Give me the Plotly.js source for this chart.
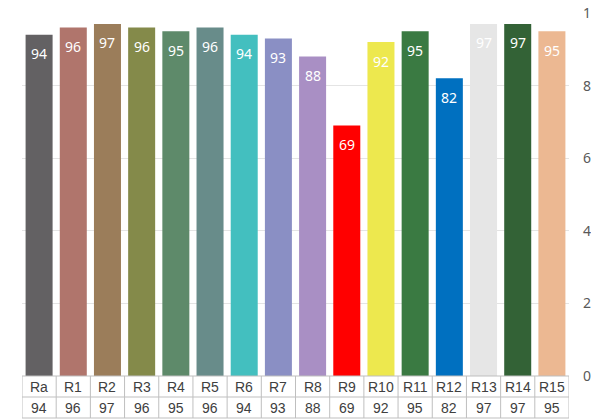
<!DOCTYPE html>
<html><head><meta charset="utf-8">
<script src="https://cdn.plot.ly/plotly-3.0.1.min.js"></script>
<style>html,body{margin:0;padding:0;background:#fff;}#chart{width:591px;height:419px;}</style>
</head><body><div id="chart"></div>
<script>
const categories = ["Ra","R1","R2","R3","R4","R5","R6","R7","R8","R9","R10","R11","R12","R13","R14","R15"];
const values = [94,96,97,96,95,96,94,93,88,69,92,95,82,97,97,95];
const colors = ["#636163","#B0756C","#9B7D5A","#848A4A","#5E8A6A","#688C8A","#43BFBF","#8A8FC4","#A98FC4","#FF0000","#EDE84E","#3A7A42","#0070C0","#E6E6E6","#336236","#ECB892"];
const tickVals = [0,20,40,60,80,100];

const trace = {
  type: 'bar', x: categories, y: values,
  marker: {color: colors, line: {width: 0}},
  hoverinfo: 'none'
};

const annotations = [];
const shapes = [];
const row1 = -21/363, row2 = -42/363;
categories.forEach((c, i) => {
  annotations.push({x: c, y: values[i], xref: 'x', yref: 'y', text: String(values[i]),
    showarrow: false, yanchor: 'middle', yshift: -19,
    font: {family: 'Noto Sans, Open Sans, sans-serif', size: 14, color: '#ffffff'}});
  annotations.push({x: c, y: row1/2, xref: 'x', yref: 'paper', text: c, showarrow: false,
    yanchor: 'middle', font: {family: 'Liberation Sans, Arial, sans-serif', size: 14, color: '#404040'}});
  annotations.push({x: c, y: (row1+row2)/2, xref: 'x', yref: 'paper', text: String(values[i]), showarrow: false,
    yanchor: 'middle', font: {family: 'Liberation Sans, Arial, sans-serif', size: 14, color: '#404040'}});
});
for (let i = 0; i <= categories.length; i++) {
  shapes.push({type: 'line', xref: 'x', yref: 'paper', x0: i - 0.5, x1: i - 0.5, y0: 0, y1: row2,
    line: {color: '#bfbfbf', width: 1}});
}
[0, row1, row2].forEach(y => {
  shapes.push({type: 'line', xref: 'x', yref: 'paper', x0: -0.5, x1: categories.length - 0.5, y0: y, y1: y,
    line: {color: '#bfbfbf', width: 1}});
});

const layout = {
  width: 591, height: 419,
  margin: {l: 22, r: 22, t: 13, b: 43},
  paper_bgcolor: '#fff', plot_bgcolor: '#fff',
  showlegend: false, bargap: 0.21,
  xaxis: {showticklabels: false, showgrid: false, zeroline: false, showline: false, ticks: '',
    range: [-0.5, categories.length - 0.5], fixedrange: true},
  yaxis: {side: 'right', range: [0, 100], tickvals: tickVals, ticktext: tickVals.map(String),
    showgrid: true, gridcolor: '#e4e4e4', gridwidth: 1, zeroline: false, showline: false, ticks: '',
    ticklabelstandoff: 13,
    tickfont: {family: 'Noto Sans, Open Sans, sans-serif', size: 14, color: '#595959'}},
  annotations: annotations, shapes: shapes
};
Plotly.newPlot('chart', [trace], layout, {displayModeBar: false, staticPlot: true});
</script></body></html>
